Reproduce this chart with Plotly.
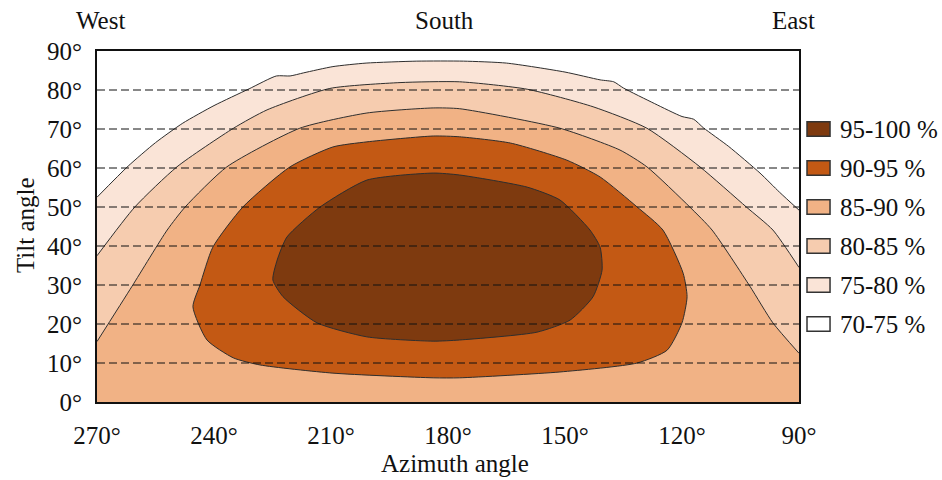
import plotly.graph_objects as go

# ---------------- data ----------------
azimuth_ticks = [270, 240, 210, 180, 150, 120, 90]
tilt_ticks = [0, 10, 20, 30, 40, 50, 60, 70, 80, 90]
grid_tilts = [10, 20, 30, 40, 50, 60, 70, 80]

# boundary 70-75 / 75-80 (outermost)
c1_az = [270, 262, 255, 248, 240, 231, 224, 220.5, 217, 209.5, 201, 188,
         176, 165, 150, 141, 137.5, 135, 127, 120, 117, 114.5, 108, 100, 95, 90]
c1_tilt = [52.5, 60.5, 66.5, 71.5, 76, 80.3, 83.6, 83.6, 84.4, 86, 86.9, 87.4,
           87.4, 86.9, 84.6, 82.6, 82.1, 80.5, 76.5, 73.2, 72.5, 70.3, 65.5, 58.7, 53.8, 49.2]

# boundary 75-80 / 80-85
c2_az = [270, 260.3, 249.5, 235, 226.4, 210.3, 192.3, 177, 159.7, 142.8, 129, 115.4, 103.5, 96.7, 90]
c2_tilt = [37.5, 50, 60.3, 70.2, 74.9, 80.4, 81.9, 82.1, 80.2, 75.7, 70.2, 60.3, 50, 44.1, 34.5]

# boundary 80-85 / 85-90
c3_az = [270, 261, 252, 247.4, 236.7, 218, 200.8, 183.8, 177, 151.3, 135.9, 129, 118, 112.3, 102.6, 96.7, 90]
c3_tilt = [15.5, 29.7, 44.1, 50, 60.3, 70.2, 74.1, 75.4, 75.2, 70.2, 64.6, 60.3, 50, 44.1, 29.7, 20.3, 12.5]

# boundary 85-90 / 90-95 (closed)
c4_az = [183.8, 177, 164, 149.5, 141, 131.5, 124.9, 119.7, 118.7, 120, 123.8, 131.5, 151.3,
         177, 183.8, 209.5, 228.2, 235, 241.8, 245.4, 243.6, 240.3, 232.6, 220.5, 209.5, 200.8, 183.8]
c4_tilt = [68.2, 68, 66.4, 62, 57.7, 50, 44.1, 33, 27, 20.3, 13.3, 10, 7.7,
           6.2, 6.2, 7.4, 9.5, 11.3, 15.9, 24.4, 30, 39.7, 50, 60.3, 65.4, 66.7, 68.2]

# boundary 90-95 / 95-100 (closed)
c5_az = [183.8, 177, 159.7, 151.3, 143.6, 141, 140.5, 142.8, 148.7, 157.2, 177, 183.8,
         200.8, 213.6, 222.3, 224.9, 223.8, 221.3, 212.8, 200.8, 183.8]
c5_tilt = [58.7, 58.2, 55.1, 51.8, 44.1, 39.7, 33.8, 27, 21, 17.9, 15.9, 15.6,
           16.7, 20.3, 27, 31.3, 36.4, 42.3, 50, 56.9, 58.7]

levels = ["95-100 %", "90-95 %", "85-90 %", "80-85 %", "75-80 %", "70-75 %"]
level_colors = ["#7E3A0F", "#C35914", "#F1B285", "#F6CCAF", "#FAE4D7", "#FFFFFF"]
legend_tilts = [70, 60, 50, 40, 30, 20]

compass_labels = ["West", "South", "East"]
compass_az = [269, 181, 91.5]

# ---------------- figure ----------------
FONT = "Liberation Serif, Times New Roman, serif"
FS = 25
EDGE = "#2e2e2e"

fig = go.Figure()

def add_band(xs, ys, color, fill):
    fig.add_trace(go.Scatter(
        x=xs, y=ys, mode="lines", fill=fill, fillcolor=color,
        line=dict(color=EDGE, width=1, shape="spline", smoothing=0.6),
        hoverinfo="skip", showlegend=False))

add_band(c1_az, c1_tilt, level_colors[4], "tozeroy")
add_band(c2_az, c2_tilt, level_colors[3], "tozeroy")
add_band(c3_az, c3_tilt, level_colors[2], "tozeroy")
add_band(c4_az, c4_tilt, level_colors[1], "toself")
add_band(c5_az, c5_tilt, level_colors[0], "toself")

shapes = []
for t in grid_tilts:
    shapes.append(dict(type="line", xref="paper", yref="y", x0=0, x1=1, y0=t, y1=t,
                       line=dict(color="#111111", width=1, dash="8px,4px"), layer="above"))

annotations = []
for lab, col, t in zip(levels, level_colors, legend_tilts):
    yp = t / 90.0
    shapes.append(dict(type="rect", xref="paper", yref="paper",
                       x0=1.0114, x1=1.0442, y0=yp - 0.021, y1=yp + 0.021,
                       fillcolor=col, line=dict(color="#333333", width=1.5)))
    annotations.append(dict(text=lab, xref="paper", yref="paper", x=1.0556, y=yp,
                            xanchor="left", yanchor="middle", showarrow=False,
                            font=dict(family=FONT, size=FS, color="#111111")))

for lab, az in zip(compass_labels, compass_az):
    annotations.append(dict(text=lab, xref="x", yref="paper", x=az, y=1.088,
                            xanchor="center", yanchor="middle", showarrow=False,
                            font=dict(family=FONT, size=FS, color="#111111")))

annotations.append(dict(text="Azimuth angle", xref="paper", yref="paper", x=0.51, y=-0.174,
                        xanchor="center", yanchor="middle", showarrow=False,
                        font=dict(family=FONT, size=FS, color="#111111")))
annotations.append(dict(text="Tilt angle", xref="paper", yref="paper", x=-0.1026, y=0.504,
                        xanchor="center", yanchor="middle", showarrow=False, textangle=-90,
                        font=dict(family=FONT, size=FS, color="#111111")))

axis_common = dict(showgrid=False, zeroline=False, showline=True, mirror=True,
                   linecolor="#111111", linewidth=2, ticks="", layer="above traces",
                   tickfont=dict(family=FONT, size=FS, color="#111111"))

fig.update_layout(
    width=942, height=480,
    margin=dict(l=97, r=143, t=51, b=78),
    paper_bgcolor="white", plot_bgcolor="white",
    xaxis=dict(range=[270, 90], tickmode="array", tickvals=azimuth_ticks,
               ticktext=[f"{v}°" for v in azimuth_ticks], ticklabelstandoff=10, **axis_common),
    yaxis=dict(range=[0, 90], tickmode="array", tickvals=tilt_ticks,
               ticktext=[f"{v}°" for v in tilt_ticks], ticklabelstandoff=8, **axis_common),
    shapes=shapes, annotations=annotations,
    showlegend=False,
)

fig.write_html("out.html", config={"displayModeBar": False},
               post_script="document.body.style.margin='0px';")
